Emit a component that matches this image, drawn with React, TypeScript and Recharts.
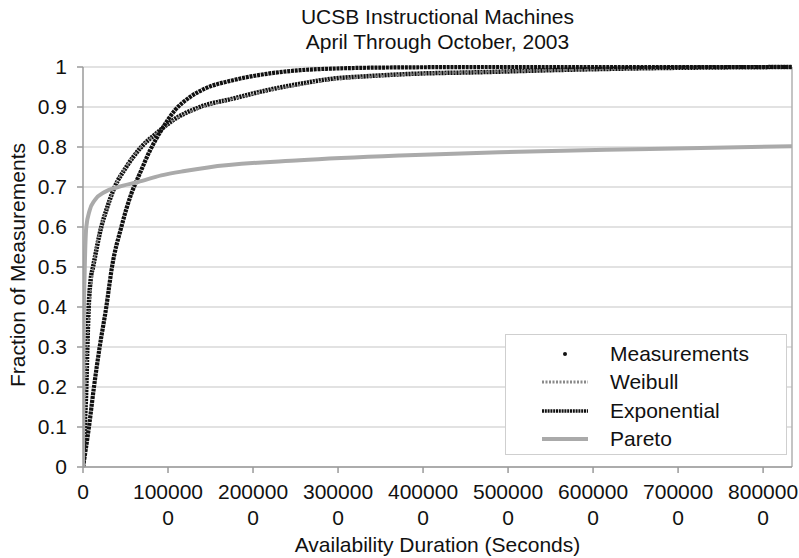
import { ComposedChart, Line, XAxis, YAxis, CartesianGrid, ReferenceLine } from "recharts";

// availability duration, seconds
const X_MAX = 8340000;
const X_TICKS = [0, 1000000, 2000000, 3000000, 4000000, 5000000, 6000000, 7000000, 8000000];
const Y_TICKS = [0, 0.1, 0.2, 0.3, 0.4, 0.5, 0.6, 0.7, 0.8, 0.9, 1];

const MEAS_DURATION = [0, 20000, 39000, 51000, 67000, 91000, 118000, 215000, 274000, 373000, 509000, 686000, 862000, 1059000, 1376000, 1765000, 2165000, 2553000, 2941000, 3341000, 3882000, 4670000, 5694000, 6670000, 8340000];
const MEAS_FRACTION = [0, 0.1, 0.2, 0.3, 0.4, 0.47, 0.5, 0.6, 0.642, 0.7, 0.75, 0.8, 0.834, 0.867, 0.9, 0.921, 0.942, 0.958, 0.971, 0.977, 0.983, 0.987, 0.993, 0.997, 1.0];

const WEIBULL_DURATION = [0, 15000, 35000, 55000, 80000, 120000, 210000, 280000, 370000, 510000, 690000, 870000, 1060000, 1380000, 1770000, 2170000, 2560000, 2950000, 3350000, 3900000, 4700000, 5700000, 6700000, 8340000];
const WEIBULL_FRACTION = [0, 0.12, 0.22, 0.32, 0.41, 0.5, 0.6, 0.645, 0.7, 0.752, 0.802, 0.835, 0.866, 0.898, 0.92, 0.94, 0.955, 0.967, 0.975, 0.982, 0.988, 0.993, 0.997, 1.0];

const EXP_DURATION = [0, 70000, 129000, 196000, 274000, 341000, 451000, 568000, 667000, 785000, 921000, 1082000, 1259000, 1435000, 1765000, 2165000, 2553000, 2941000, 3730000, 5000000, 8340000];
const EXP_FRACTION = [0, 0.1, 0.2, 0.3, 0.4, 0.5, 0.6, 0.683, 0.733, 0.79, 0.842, 0.892, 0.925, 0.946, 0.967, 0.983, 0.992, 0.996, 0.999, 1.0, 1.0];

const PARETO_DURATION = [0, 6000, 20000, 38800, 78800, 137600, 255300, 411800, 647000, 921000, 1196000, 1470000, 2550000, 3730000, 4900000, 6670000, 8340000];
const PARETO_FRACTION = [0, 0.3, 0.49, 0.6, 0.642, 0.667, 0.6875, 0.7, 0.7125, 0.729, 0.74, 0.749, 0.767, 0.779, 0.787, 0.795, 0.802];

const zip = (xs: number[], ys: number[]) => xs.map((x, i) => ({ x, y: ys[i] }));

const meas = zip(MEAS_DURATION, MEAS_FRACTION);
const weibull = zip(WEIBULL_DURATION, WEIBULL_FRACTION);
const expo = zip(EXP_DURATION, EXP_FRACTION);
const pareto = zip(PARETO_DURATION, PARETO_FRACTION);

const FONT = "'Liberation Sans', Arial, Helvetica, sans-serif";
const INK = "#111";
const AXIS = "#9a9a9a";
const GRID = "#d8d8d8";

// Excel wrapped the 7-digit labels after six characters
function XTick({ x, y, payload }: any) {
  const s = String(payload.value);
  const lines = s.length > 6 ? [s.slice(0, 6), s.slice(6)] : [s];
  return (
    <text x={x} y={y} textAnchor="middle" fontFamily={FONT} fontSize={21} fill={INK}>
      {lines.map((l, i) => (
        <tspan key={i} x={x} dy={i === 0 ? 24 : 26}>
          {l}
        </tspan>
      ))}
    </text>
  );
}

const LEGEND = [
  { name: "Measurements", kind: "dot" },
  { name: "Weibull", kind: "weibull" },
  { name: "Exponential", kind: "exp" },
  { name: "Pareto", kind: "pareto" },
];

function Swatch({ kind }: { kind: string }) {
  return (
    <svg width={46} height={10} style={{ display: "block" }}>
      {kind === "dot" && <circle cx={23} cy={5} r={2} fill={INK} />}
      {kind === "weibull" && (
        <line x1={0} y1={5} x2={46} y2={5} stroke="#8a8a8a" strokeWidth={3} strokeDasharray="2 1.5" />
      )}
      {kind === "exp" && (
        <line x1={0} y1={5} x2={46} y2={5} stroke={INK} strokeWidth={3.5} strokeDasharray="2 0.8" />
      )}
      {kind === "pareto" && <line x1={0} y1={5} x2={46} y2={5} stroke="#aaaaaa" strokeWidth={4} />}
    </svg>
  );
}

export default function App() {
  return (
    <div style={{ position: "absolute", left: 0, top: 0, width: 799, height: 558, background: "#fff", fontFamily: FONT, color: INK }}>
      <ComposedChart width={799} height={558} margin={{ top: 67, right: 7, bottom: 0, left: 0 }}>
        <CartesianGrid vertical={false} stroke={GRID} strokeWidth={1.5} />
        <XAxis
          dataKey="x"
          type="number"
          domain={[0, X_MAX]}
          ticks={X_TICKS}
          interval={0}
          allowDataOverflow
          height={91}
          tickSize={6}
          tick={<XTick />}
          axisLine={{ stroke: AXIS, strokeWidth: 1.5 }}
          tickLine={{ stroke: AXIS, strokeWidth: 1.5 }}
        />
        <YAxis
          type="number"
          domain={[0, 1]}
          ticks={Y_TICKS}
          interval={0}
          width={83}
          tickSize={6}
          tickMargin={10}
          tickFormatter={(v: number) => String(v)}
          tick={{ fontSize: 21, fontFamily: FONT, fill: INK }}
          axisLine={{ stroke: AXIS, strokeWidth: 1.5 }}
          tickLine={{ stroke: AXIS, strokeWidth: 1.5 }}
        />
        <ReferenceLine x={X_MAX} stroke="#b0b0b0" strokeWidth={1.5} />
        <Line
          data={meas}
          dataKey="y"
          type="monotone"
          stroke={INK}
          strokeWidth={4.5}
          strokeDasharray="2.2 0.8"
          dot={false}
          activeDot={false}
          isAnimationActive={false}
        />
        <Line
          data={weibull}
          dataKey="y"
          type="monotone"
          stroke="#7a7a7a"
          strokeWidth={1.8}
          strokeDasharray="3 4"
          dot={false}
          activeDot={false}
          isAnimationActive={false}
        />
        <Line
          data={expo}
          dataKey="y"
          type="monotone"
          stroke={INK}
          strokeWidth={4.2}
          strokeDasharray="3 0.8"
          dot={false}
          activeDot={false}
          isAnimationActive={false}
        />
        <Line
          data={pareto}
          dataKey="y"
          type="monotone"
          stroke="#aaaaaa"
          strokeWidth={4}
          dot={false}
          activeDot={false}
          isAnimationActive={false}
        />
      </ComposedChart>

      <div style={{ position: "absolute", left: 83, width: 709, top: 4, textAlign: "center", fontSize: 21, lineHeight: "25px" }}>
        <div>UCSB Instructional Machines</div>
        <div>April Through October, 2003</div>
      </div>

      <div style={{ position: "absolute", left: 83, width: 709, top: 532, textAlign: "center", fontSize: 21, lineHeight: "25px" }}>
        Availability Duration (Seconds)
      </div>

      <div
        style={{
          position: "absolute",
          left: 17,
          top: 265,
          transform: "translate(-50%, -50%) rotate(-90deg)",
          whiteSpace: "nowrap",
          fontSize: 21,
          lineHeight: "25px",
        }}
      >
        Fraction of Measurements
      </div>

      <div
        style={{
          position: "absolute",
          left: 505,
          top: 334,
          width: 282,
          height: 121,
          boxSizing: "border-box",
          border: "1.5px solid #cfcfcf",
          background: "#fff",
          paddingTop: 5,
        }}
      >
        {LEGEND.map((item) => (
          <div key={item.name} style={{ display: "flex", alignItems: "center", height: 28.3, fontSize: 21 }}>
            <div style={{ marginLeft: 36, width: 46 }}>
              <Swatch kind={item.kind} />
            </div>
            <div style={{ marginLeft: 22 }}>{item.name}</div>
          </div>
        ))}
      </div>
    </div>
  );
}
